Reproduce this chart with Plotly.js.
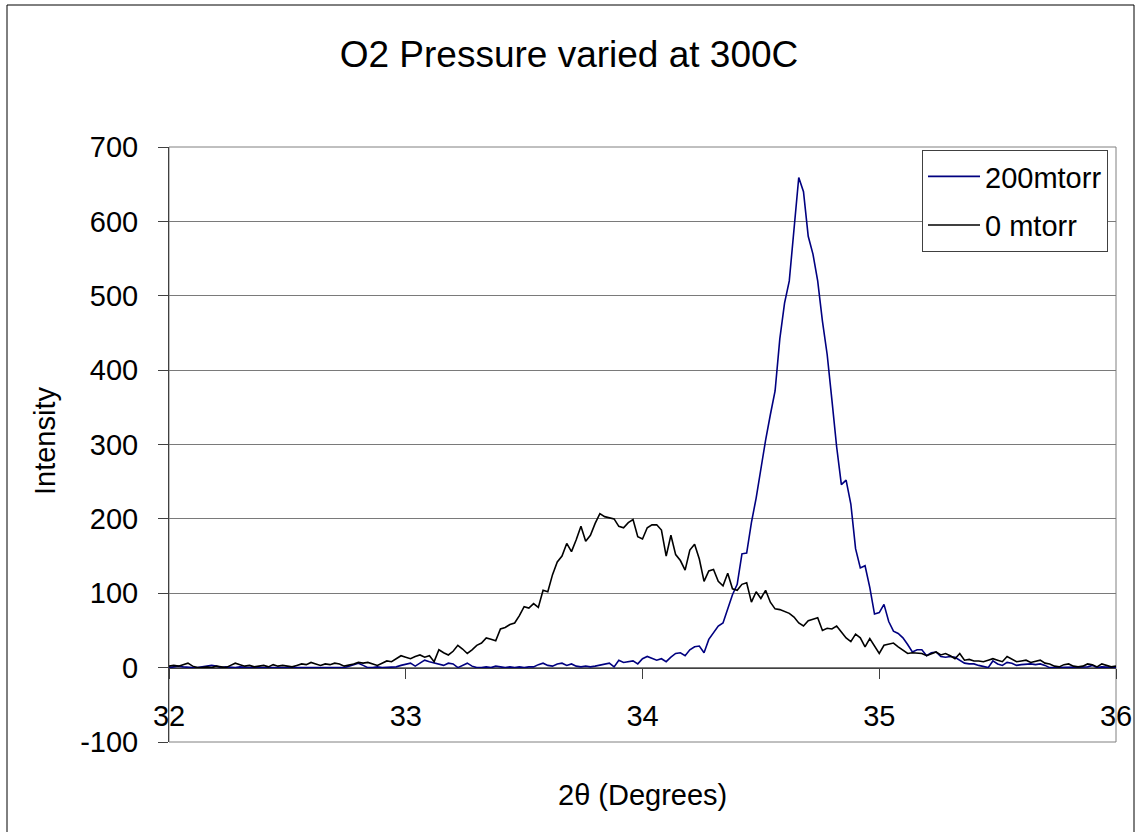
<!DOCTYPE html>
<html>
<head>
<meta charset="utf-8">
<script src="https://cdn.plot.ly/plotly-3.0.1.min.js"></script>
<style>
html,body{margin:0;padding:0;background:#fff;}
#chart{width:1138px;height:832px;}
</style>
</head>
<body>
<div id="chart"></div>
<script>
const chartTitle = "O2 Pressure varied at 300C";
const xTitle = "2θ (Degrees)";
const yTitle = "Intensity";
const seriesNames = ["200mtorr", "0 mtorr"];

const twoTheta = [
32.00,32.02,32.04,32.06,32.08,32.10,32.12,32.14,32.16,32.18,
32.20,32.22,32.24,32.26,32.28,32.30,32.32,32.34,32.36,32.38,
32.40,32.42,32.44,32.46,32.48,32.50,32.52,32.54,32.56,32.58,
32.60,32.62,32.64,32.66,32.68,32.70,32.72,32.74,32.76,32.78,
32.80,32.82,32.84,32.86,32.88,32.90,32.92,32.94,32.96,32.98,
33.00,33.02,33.04,33.06,33.08,33.10,33.12,33.14,33.16,33.18,
33.20,33.22,33.24,33.26,33.28,33.30,33.32,33.34,33.36,33.38,
33.40,33.42,33.44,33.46,33.48,33.50,33.52,33.54,33.56,33.58,
33.60,33.62,33.64,33.66,33.68,33.70,33.72,33.74,33.76,33.78,
33.80,33.82,33.84,33.86,33.88,33.90,33.92,33.94,33.96,33.98,
34.00,34.02,34.04,34.06,34.08,34.10,34.12,34.14,34.16,34.18,
34.20,34.22,34.24,34.26,34.28,34.30,34.32,34.34,34.36,34.38,
34.40,34.42,34.44,34.46,34.48,34.50,34.52,34.54,34.56,34.58,
34.60,34.62,34.64,34.66,34.68,34.70,34.72,34.74,34.76,34.78,
34.80,34.82,34.84,34.86,34.88,34.90,34.92,34.94,34.96,34.98,
35.00,35.02,35.04,35.06,35.08,35.10,35.12,35.14,35.16,35.18,
35.20,35.22,35.24,35.26,35.28,35.30,35.32,35.34,35.36,35.38,
35.40,35.42,35.44,35.46,35.48,35.50,35.52,35.54,35.56,35.58,
35.60,35.62,35.64,35.66,35.68,35.70,35.72,35.74,35.76,35.78,
35.80,35.82,35.84,35.86,35.88,35.90,35.92,35.94,35.96,35.98,
36.00];

const intensity200 = [
0,1,2,1,0,0,0,1,3,3,
2,0,1,0,0,1,0,0,0,0,
1,0,0,0,1,0,0,0,1,0,
0,0,1,0,0,0,0,0,2,4,
6,3,0,0,1,0,0,0,1,3,
5,6,2,6,10,8,6,5,3,6,
5,0,3,6,2,0,0,1,0,2,
1,0,1,0,1,0,1,1,4,6,
3,2,5,6,3,5,2,1,2,1,
2,3,5,6,1,10,7,8,9,5,
12,15,13,10,12,8,14,19,20,16,
24,28,29,20,38,47,56,60,80,98,
112,153,154,195,228,268,306,340,372,442,
490,520,590,659,640,580,556,520,466,421,
360,297,246,252,220,160,134,137,108,72,
74,85,62,49,46,40,31,21,24,24,
16,20,21,15,14,15,14,10,6,5,
5,3,1,0,9,5,3,7,6,3,
4,5,5,4,5,3,0,0,0,0,
1,0,0,0,1,3,0,1,1,0,
0];

const intensity0 = [
2,3,2,4,6,2,0,0,1,0,
2,1,0,3,6,4,2,3,1,2,
3,1,4,2,3,2,1,3,5,4,
7,5,3,5,4,6,5,2,3,5,
7,6,7,5,3,6,9,8,12,16,
14,12,15,17,14,16,8,24,20,17,
22,30,25,19,24,30,33,40,38,36,
52,54,58,60,70,82,80,86,81,104,
102,125,142,150,167,156,172,190,170,178,
194,207,203,202,200,190,188,195,199,176,
173,188,192,192,185,150,178,152,144,131,
158,166,146,116,130,132,116,110,127,106,
104,112,114,88,102,93,104,88,79,78,
75,73,68,60,56,63,65,67,50,53,
52,56,48,40,35,45,40,28,39,29,
19,30,32,33,28,24,19,20,19,19,
16,18,21,17,19,16,12,19,10,11,
9,9,8,10,12,10,8,15,12,8,
9,10,7,8,10,6,5,2,1,4,
5,2,1,2,5,4,1,5,3,1,
2];

const xTickVals = [32, 33, 34, 35, 36];
const yTickVals = [-100, 0, 100, 200, 300, 400, 500, 600, 700];

const FONT = "Liberation Sans, Arial, Helvetica, sans-serif";

const traces = [
  {x: twoTheta, y: intensity200, name: seriesNames[0], type: "scatter", mode: "lines",
   line: {color: "#000080", width: 1.6}, legendgroup: "a"},
  {x: twoTheta, y: intensity0, name: seriesNames[1], type: "scatter", mode: "lines",
   line: {color: "#000000", width: 1.6}, legendgroup: "b"}
];

const layout = {
  width: 1138, height: 832,
  paper_bgcolor: "#ffffff", plot_bgcolor: "#ffffff",
  margin: {l: 169, r: 22, t: 147, b: 90},
  font: {family: FONT, color: "#000", size: 29},
  title: {text: chartTitle, font: {family: FONT, size: 37, color: "#000"},
          x: 0.5, xref: "container", y: 1 - 54/832, yref: "container", yanchor: "middle"},
  showlegend: true,
  legend: {x: (922-169)/947, y: (742-150)/595, xanchor: "left", yanchor: "top",
           bgcolor: "#ffffff", bordercolor: "#404040", borderwidth: 1,
           font: {family: FONT, size: 29, color: "#000"},
           traceorder: "grouped", tracegroupgap: 8, itemwidth: 52},
  xaxis: {range: [32, 36], tickvals: xTickVals, ticktext: xTickVals.map(String),
          anchor: "free", position: 0.125,
          showline: true, linecolor: "#404040", linewidth: 1,
          ticks: "outside", ticklen: 10, tickcolor: "#404040", tickwidth: 1,
          ticklabelstandoff: 13,
          showgrid: false, zeroline: false,
          tickfont: {family: FONT, size: 29, color: "#000"}},
  yaxis: {range: [-100, 700], tickvals: yTickVals, ticktext: yTickVals.map(String),
          showline: true, linecolor: "#404040", linewidth: 1,
          ticks: "outside", ticklen: 10, tickcolor: "#404040", tickwidth: 1,
          ticklabelstandoff: 14,
          showgrid: true, gridcolor: "#7a7a7a", gridwidth: 1, zeroline: false,
          tickfont: {family: FONT, size: 29, color: "#000"}},
  annotations: [
    {text: xTitle, xref: "paper", yref: "paper", x: 0.5, y: (742-795)/595,
     xanchor: "center", yanchor: "middle", showarrow: false,
     font: {family: FONT, size: 29, color: "#000"}},
    {text: yTitle, xref: "paper", yref: "paper", x: (45-169)/947, y: (742-441)/595,
     xanchor: "center", yanchor: "middle", showarrow: false, textangle: -90,
     font: {family: FONT, size: 29, color: "#000"}}
  ],
  shapes: [
    {type: "rect", xref: "paper", yref: "paper", x0: 0, x1: 1, y0: 0, y1: 1,
     line: {color: "#808080", width: 1}, layer: "below"},
    {type: "rect", xref: "paper", yref: "paper",
     x0: (7-169)/947, x1: (1134-169)/947, y0: (742-845)/595, y1: (742-5)/595,
     line: {color: "#000000", width: 1}}
  ]
};

Plotly.newPlot("chart", traces, layout, {displayModeBar: false, staticPlot: true});
</script>
</body>
</html>
